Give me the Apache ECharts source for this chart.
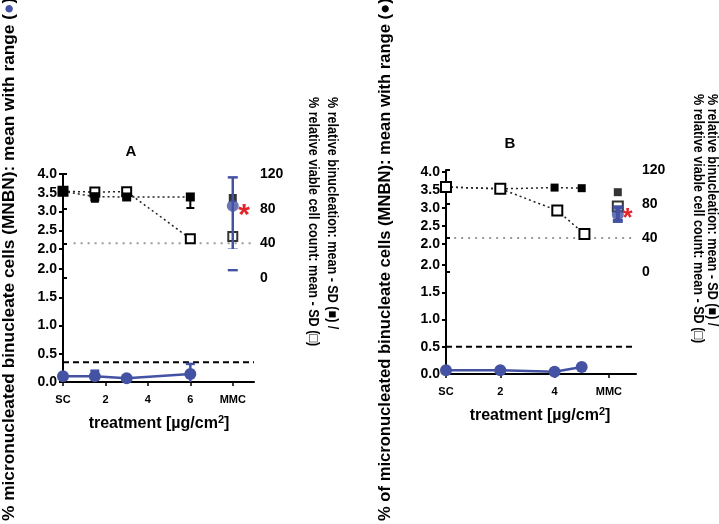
<!DOCTYPE html>
<html>
<head>
<meta charset="utf-8">
<script src="https://cdn.jsdelivr.net/npm/echarts@6/dist/echarts.min.js"></script>
<style>html,body{margin:0;padding:0;background:#fff}#c{width:719px;height:524px}</style>
</head>
<body>
<div id="c"></div>
<script>
// ---------- Panel A data ----------
const A_dose = [0, 1.5, 3, 6];
const A_mnbn = [0.10, 0.10, 0.065, 0.14];
const A_mnbnLo = [0.10, 0.0, 0.065, 0.0];
const A_mnbnHi = [0.10, 0.20, 0.065, 0.32];
const A_mmcX = 8;
const A_mmcMean = 3.15, A_mmcLo = 1.98, A_mmcHi = 3.91;
const A_binuc = [100, 93.8, 93.5, 93.5];
const A_binucSD = [100, 88, 91, 80.8];
const A_viable = [100, 99.2, 99.6, 45.3];
const A_mmcBinuc = 92.3, A_mmcViable = 48;
const A_cutMNBN = 0.35;
const A_tickPos = [0, 2, 4, 6, 8];
const A_tickLab = ['SC', '2', '4', '6', 'MMC'];
const A_star = [8.53, 3.07];

// ---------- Panel B data ----------
const B_dose = [0, 2, 4, 5];
const B_doseV = [0, 2, 4.1, 5.1];
const B_mnbn = [0.07, 0.07, 0.04, 0.13];
const B_mmcX = 6.33;
const B_mmcMean = 2.82, B_mmcLo = 2.64, B_mmcHi = 3.02;
const B_binuc = [100, 97.8, 99.3, 98.6];
const B_viable = [100, 98, 72.3, 44.7];
const B_mmcBinuc = 93.9, B_mmcViable = 77;
const B_cutMNBN = 0.5;
const B_tickPos = [0, 2, 4, 6];
const B_tickLab = ['SC', '2', '4', 'MMC'];
const B_star = [6.69, 2.85];

const cutViable = 40;
const rightTicks = [0, 40, 80, 120];

const BLUE = '#4352a2';
const FONT = '"Liberation Sans", Arial, Helvetica, sans-serif';

function errRender(color, capW, lw, capLo, capHi) {
  return function (params, api) {
    const x = api.value(0), lo = api.value(1), hi = api.value(2);
    const p1 = api.coord([x, lo]), p2 = api.coord([x, hi]);
    const st = { stroke: color, lineWidth: lw };
    const ch = [{ type: 'line', shape: { x1: p1[0], y1: p1[1], x2: p2[0], y2: p2[1] }, style: st }];
    if (capLo) ch.push({ type: 'line', shape: { x1: p1[0] - capW / 2, y1: p1[1], x2: p1[0] + capW / 2, y2: p1[1] }, style: st });
    if (capHi) ch.push({ type: 'line', shape: { x1: p2[0] - capW / 2, y1: p2[1], x2: p2[0] + capW / 2, y2: p2[1] }, style: st });
    return { type: 'group', children: ch };
  };
}
function starRender(size) {
  return function (params, api) {
    const p = api.coord([api.value(0), api.value(1)]);
    return { type: 'text', x: p[0], y: p[1] + size * 0.22, style: { text: '*', fill: '#e3242b', font: 'bold ' + size + 'px ' + FONT, align: 'center', verticalAlign: 'middle' } };
  };
}

const hiddenX = (gi, max) => ({ type: 'value', gridIndex: gi, min: 0, max: max, show: false });
const mainX = (gi, max, pos, lab) => ({
  type: 'value', gridIndex: gi, min: 0, max: max,
  axisLine: { show: true, onZero: false, lineStyle: { color: '#000', width: 2 } },
  axisTick: { show: true, customValues: pos, length: 4, lineStyle: { color: '#000', width: 1.5 } },
  axisLabel: { customValues: pos, margin: 12, color: '#000', fontFamily: FONT, fontWeight: 'bold', fontSize: 11,
    formatter: v => lab[pos.indexOf(v)] },
  splitLine: { show: false }
});
const rightY = gi => ({
  type: 'value', gridIndex: gi, min: -120, max: 120, position: 'right',
  axisLine: { show: true, lineStyle: { color: '#000', width: 2 } },
  axisTick: { show: true, customValues: rightTicks, length: 4, lineStyle: { color: '#000', width: 2 } },
  axisLabel: { customValues: rightTicks, margin: 6, color: '#000', fontFamily: FONT, fontWeight: 'bold', fontSize: 14 },
  splitLine: { show: false }
});
const leftY = (gi, min, max) => ({
  type: 'value', gridIndex: gi, min: min, max: max, interval: 0.5, position: 'left',
  axisLine: { show: true, onZero: false, lineStyle: { color: '#000', width: 2 } },
  axisTick: { show: true, length: 4, lineStyle: { color: '#000', width: 2 } },
  axisLabel: { margin: 6, color: '#000', fontFamily: FONT, fontWeight: 'bold', fontSize: 14, formatter: v => v.toFixed(1) },
  splitLine: { show: false }
});

const zip = (xs, ys) => xs.map((x, i) => [x, ys[i]]);
const dotted = { color: '#222', width: 1.5, type: [2, 3] };
const openSq = (size) => ({ symbol: 'rect', symbolSize: size, itemStyle: { color: '#fff', borderColor: '#000', borderWidth: 2 } });
const fillSq = (size) => ({ symbol: 'rect', symbolSize: size, itemStyle: { color: '#000' } });

const series = [
  // ===== Panel A =====
  { type: 'line', xAxisIndex: 0, yAxisIndex: 0, data: [[0.5, cutViable], [9, cutViable]], symbol: 'none', lineStyle: { color: '#9a9a9a', width: 2, type: [2, 5] }, z: 1 },
  { type: 'line', xAxisIndex: 2, yAxisIndex: 2, data: [[0, A_cutMNBN], [9, A_cutMNBN]], symbol: 'none', lineStyle: { color: '#000', width: 2, type: [6, 4] }, z: 1 },
  { type: 'custom', xAxisIndex: 0, yAxisIndex: 0, renderItem: errRender('#000', 8, 2, true, false), data: A_dose.map((x, i) => [x, A_binucSD[i], A_binuc[i]]), z: 2 },
  { type: 'line', xAxisIndex: 0, yAxisIndex: 0, data: zip(A_dose, A_viable), ...openSq(9), lineStyle: dotted, z: 3 },
  { type: 'line', xAxisIndex: 0, yAxisIndex: 0, data: zip(A_dose, A_binuc), ...fillSq(9), lineStyle: dotted, z: 4 },
  { type: 'scatter', xAxisIndex: 0, yAxisIndex: 0, data: [[A_mmcX, A_mmcViable]], ...openSq(9), z: 3 },
  { type: 'scatter', xAxisIndex: 0, yAxisIndex: 0, data: [[A_mmcX, A_mmcBinuc]], ...fillSq(8), z: 3 },
  { type: 'custom', xAxisIndex: 2, yAxisIndex: 2, renderItem: errRender(BLUE, 9, 2.5, false, true), data: A_dose.map((x, i) => [x, A_mnbnLo[i], A_mnbnHi[i]]), z: 5 },
  { type: 'line', xAxisIndex: 2, yAxisIndex: 2, data: zip(A_dose, A_mnbn), symbol: 'circle', symbolSize: 12, itemStyle: { color: BLUE }, lineStyle: { color: BLUE, width: 2.5 }, z: 6 },
  { type: 'custom', xAxisIndex: 1, yAxisIndex: 1, clip: true, renderItem: errRender(BLUE, 10, 2.5, true, true), data: [[A_mmcX, A_mmcLo, A_mmcHi]], z: 7 },
  { type: 'custom', xAxisIndex: 2, yAxisIndex: 2, clip: true, renderItem: errRender(BLUE, 10, 2.5, true, true), data: [[A_mmcX, A_mmcLo, A_mmcHi]], z: 7 },
  { type: 'scatter', xAxisIndex: 1, yAxisIndex: 1, data: [[A_mmcX, A_mmcMean]], symbol: 'circle', symbolSize: 12, itemStyle: { color: BLUE }, z: 8 },
  { type: 'custom', xAxisIndex: 1, yAxisIndex: 1, renderItem: starRender(30), data: [A_star], z: 9 },

  // ===== Panel B =====
  { type: 'line', xAxisIndex: 3, yAxisIndex: 3, data: [[0.3, cutViable], [7, cutViable]], symbol: 'none', lineStyle: { color: '#9a9a9a', width: 2, type: [2, 5] }, z: 1 },
  { type: 'line', xAxisIndex: 5, yAxisIndex: 5, data: [[0, B_cutMNBN], [7, B_cutMNBN]], symbol: 'none', lineStyle: { color: '#000', width: 2, type: [6, 4] }, z: 1 },
  { type: 'line', xAxisIndex: 3, yAxisIndex: 3, data: zip(B_dose, B_binuc), ...fillSq(8), lineStyle: dotted, z: 3 },
  { type: 'line', xAxisIndex: 3, yAxisIndex: 3, data: zip(B_doseV, B_viable), ...openSq(10), lineStyle: dotted, z: 4 },
  { type: 'scatter', xAxisIndex: 3, yAxisIndex: 3, data: [[B_mmcX, B_mmcBinuc]], ...fillSq(8), z: 3 },
  { type: 'scatter', xAxisIndex: 3, yAxisIndex: 3, data: [[B_mmcX, B_mmcViable]], ...openSq(10), z: 3 },
  { type: 'line', xAxisIndex: 5, yAxisIndex: 5, data: zip(B_dose, B_mnbn), symbol: 'circle', symbolSize: 12, itemStyle: { color: BLUE }, lineStyle: { color: BLUE, width: 2.5 }, z: 6 },
  { type: 'custom', xAxisIndex: 4, yAxisIndex: 4, clip: true, renderItem: errRender(BLUE, 10, 4, true, true), data: [[B_mmcX, B_mmcLo, B_mmcHi]], z: 7 },
  { type: 'scatter', xAxisIndex: 4, yAxisIndex: 4, data: [[B_mmcX, B_mmcMean]], symbol: 'circle', symbolSize: 12, itemStyle: { color: BLUE }, z: 8 },
  { type: 'custom', xAxisIndex: 4, yAxisIndex: 4, renderItem: starRender(26), data: [B_star], z: 9 }
];

const rtFont = 'bold 14px ' + FONT;
const RT_SCALE = 0.9;
const xTitleRich = { a: { font: 'bold 16px ' + FONT, lineHeight: 18, verticalAlign: 'bottom' }, s: { font: 'bold 11px ' + FONT, lineHeight: 18, verticalAlign: 'top', padding: [0, 0, 8, 0] } };
const graphic = [
  { type: 'text', x: 131, y: 152, style: { text: 'A', font: 'bold 15px ' + FONT, fill: '#000', align: 'center', verticalAlign: 'middle' } },
  { type: 'text', x: 510, y: 144, style: { text: 'B', font: 'bold 15px ' + FONT, fill: '#000', align: 'center', verticalAlign: 'middle' } },
  { type: 'text', x: 159, y: 423, style: { text: '{a|treatment [µg/cm}{s|2}{a|]}', fill: '#000', align: 'center', verticalAlign: 'middle', rich: xTitleRich } },
  { type: 'text', x: 540, y: 415, style: { text: '{a|treatment [µg/cm}{s|2}{a|]}', fill: '#000', align: 'center', verticalAlign: 'middle', rich: xTitleRich } },
  { type: 'text', x: 9, y: 521, rotation: Math.PI / 2, style: { text: '% micronucleated binucleate cells (MNBN): mean with range ({b|●})', font: 'bold 17.3px ' + FONT, fill: '#000', align: 'left', verticalAlign: 'middle', rich: { b: { font: 'bold 17.3px ' + FONT, fill: BLUE } } } },
  { type: 'text', x: 385, y: 521, rotation: Math.PI / 2, style: { text: '% of micronucleated binucleate cells (MNBN): mean with range (●)', font: 'bold 16.6px ' + FONT, fill: '#000', align: 'left', verticalAlign: 'middle' } },
  { type: 'text', x: 332, y: 97, rotation: -Math.PI / 2, scaleX: RT_SCALE, style: { text: '% relative binucleation: mean - SD (■) /', font: rtFont, fill: '#000', align: 'left', verticalAlign: 'middle' } },
  { type: 'text', x: 313, y: 97, rotation: -Math.PI / 2, scaleX: RT_SCALE, style: { text: '% relative viable cell count: mean - SD (□)', font: rtFont, fill: '#000', align: 'left', verticalAlign: 'middle' } },
  { type: 'text', x: 712, y: 94, rotation: -Math.PI / 2, scaleX: RT_SCALE, style: { text: '% relative binucleation: mean - SD (■) /', font: rtFont, fill: '#000', align: 'left', verticalAlign: 'middle' } },
  { type: 'text', x: 698, y: 94, rotation: -Math.PI / 2, scaleX: RT_SCALE, style: { text: '% relative viable cell count: mean - SD (□)', font: rtFont, fill: '#000', align: 'left', verticalAlign: 'middle' } }
];

const option = {
  animation: false,
  backgroundColor: '#fff',
  grid: [
    { left: 63, top: 174, width: 191, height: 208 },
    { left: 63, top: 174, width: 191, height: 75 },
    { left: 63, top: 269, width: 191, height: 113 },
    { left: 446, top: 170, width: 190, height: 204 },
    { left: 446, top: 172, width: 190, height: 72 },
    { left: 446, top: 265, width: 190, height: 109 }
  ],
  xAxis: [mainX(0, 9, A_tickPos, A_tickLab), hiddenX(1, 9), hiddenX(2, 9), mainX(3, 7, B_tickPos, B_tickLab), hiddenX(4, 7), hiddenX(5, 7)],
  yAxis: [rightY(0), leftY(1, 2, 4), leftY(2, 0, 2), rightY(3), leftY(4, 2, 4), leftY(5, 0, 2)],
  series: series,
  graphic: graphic
};
const chart = echarts.init(document.getElementById('c'), null, { renderer: 'canvas' });
chart.setOption(option);
</script>
</body>
</html>
